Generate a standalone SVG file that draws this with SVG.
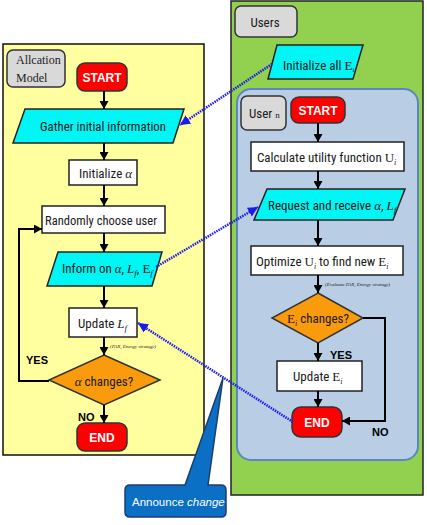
<svg xmlns="http://www.w3.org/2000/svg" width="427" height="525" viewBox="0 0 427 525">
<style>
.t{font-family:"Liberation Sans Narrow","Roboto Condensed","Liberation Sans",sans-serif;font-size:13px;fill:#1a1a1a}
.m{font-family:"Liberation Serif","DejaVu Serif",serif}
.w{font-family:"Liberation Sans",sans-serif;font-size:12px;font-weight:bold;fill:#fff}
.b{font-family:"Liberation Sans",sans-serif;font-size:11px;font-weight:bold;fill:#000}
.s{font-family:"Liberation Serif",serif;font-size:5px;font-style:italic;fill:#222}
.box{fill:#fff;stroke:#222;stroke-width:1.5}
.io{fill:#00f5f5;stroke:#222;stroke-width:1.5}
.term{fill:#ff0000;stroke:#333;stroke-width:1.5}
.dec{fill:#f99b0c;stroke:#333;stroke-width:1.5}
.lab{fill:#d9d9d9;stroke:#333;stroke-width:1.5}
.c{fill:none;stroke:#000;stroke-width:2}
.d{fill:none;stroke:#1a1aee;stroke-width:2.5;stroke-dasharray:1.5 1}
</style>
<defs>
<marker id="a" markerUnits="userSpaceOnUse" markerWidth="9" markerHeight="9" refX="8" refY="4.5" orient="auto"><path d="M0,0 L8,4.5 L0,9 z" fill="#000"/></marker>
<marker id="ab" markerUnits="userSpaceOnUse" markerWidth="11" markerHeight="11" refX="10" refY="5" orient="auto"><path d="M0,0 L10,5 L0,10 z" fill="#1a1aee"/></marker>
</defs>
<rect x="3" y="44" width="201" height="411" fill="#ffffa0" stroke="#111" stroke-width="1.5"/>
<rect x="231" y="1" width="192" height="494" fill="#92d050" stroke="#222" stroke-width="1.5"/>
<rect x="237" y="89" width="181" height="371" rx="14" fill="#b9cde5" stroke="#5b86c5" stroke-width="2"/>

<g id="alloc-label"><rect class="lab" x="7" y="50" width="58" height="37" rx="6"/><text x="16" y="64" font-family="Liberation Serif,serif" font-size="12" fill="#222">Allcation</text><text x="16" y="82" font-family="Liberation Serif,serif" font-size="12" fill="#222">Model</text></g>
<g id="start-a"><rect class="term" x="77" y="63" width="50" height="28" rx="8"/><text class="w" x="102" y="82" text-anchor="middle">START</text></g>
<g id="gather"><polygon class="io" points="25,109 184,109 173,143 13,143"/><text class="t" x="103" y="131" text-anchor="middle" textLength="126" lengthAdjust="spacingAndGlyphs">Gather initial information</text></g>
<g id="init-alpha"><rect class="box" x="69" y="160" width="68" height="25"/><text class="t" x="79" y="178">Initialize <tspan class="m" font-style="italic">α</tspan></text></g>
<g id="random"><rect class="box" x="42" y="206" width="123" height="27"/><text class="t" x="45" y="225" textLength="112" lengthAdjust="spacingAndGlyphs">Randomly choose user</text></g>
<g id="inform"><polygon class="io" points="58,252 162,252 152,286 47,286"/><text class="t" x="62" y="273">Inform on <tspan class="m" font-style="italic">α</tspan>, <tspan class="m" font-style="italic">L</tspan><tspan class="m" font-size="9" font-style="italic" dy="3">f</tspan><tspan dy="-3">, </tspan><tspan class="m">E</tspan><tspan class="m" font-size="9" font-style="italic" dy="3">f</tspan></text></g>
<g id="update-l"><rect class="box" x="69" y="308" width="68" height="29"/><text class="t" x="78" y="328">Update <tspan class="m" font-style="italic">L</tspan><tspan class="m" font-size="9" font-style="italic" dy="3">f</tspan></text></g>
<text class="s" x="110" y="348">(PAR, Energy strategy)</text>
<g id="alpha-dec"><polygon class="dec" points="104,355 160,380 104,405 49,380"/><text class="t" x="104" y="386" text-anchor="middle"><tspan class="m" font-style="italic">α</tspan> changes?</text></g>
<g id="end-a"><rect class="term" x="77" y="423" width="50" height="28" rx="8"/><text class="w" x="102" y="442" text-anchor="middle">END</text></g>
<text class="b" x="26" y="364">YES</text>
<text class="b" x="78" y="421">NO</text>

<g id="users-label"><rect class="lab" x="235" y="6" width="62" height="31" rx="6"/><text class="t" x="265" y="27" text-anchor="middle" font-size="14">Users</text></g>
<g id="init-e"><polygon class="io" points="277,45 363,45 353,79 268,79"/><text class="t" x="283" y="70" font-size="12">Initialize all <tspan class="m">E</tspan><tspan class="m" font-size="7" dy="2">i</tspan></text></g>
<g id="user-n-label"><rect class="lab" x="241" y="96" width="45" height="34" rx="6"/><text class="t" x="249" y="118">User <tspan class="m" font-size="9">n</tspan></text></g>
<g id="start-u"><rect class="term" x="291" y="97" width="54" height="26" rx="8"/><text class="w" x="318" y="115" text-anchor="middle">START</text></g>
<g id="calc"><rect class="box" x="251" y="142" width="153" height="29"/><text class="t" x="257" y="162">Calculate utility function <tspan class="m">U</tspan><tspan class="m" font-size="8" font-style="italic" dy="3">i</tspan></text></g>
<g id="request"><polygon class="io" points="267,189 405,189 393,220 254,220"/><text class="t" x="268" y="210">Request and receive <tspan class="m" font-style="italic">α</tspan>, <tspan class="m" font-style="italic">L</tspan><tspan class="m" font-size="9" font-style="italic" dy="3">f</tspan></text></g>
<g id="optimize"><rect class="box" x="251" y="246" width="152" height="29"/><text class="t" x="256" y="266">Optimize <tspan class="m">U</tspan><tspan class="m" font-size="8" font-style="italic" dy="3">i</tspan><tspan dy="-3"> to find new </tspan><tspan class="m">E</tspan><tspan class="m" font-size="8" font-style="italic" dy="3">i</tspan></text></g>
<text class="s" x="325" y="286">(Evaluate PAR, Energy strategy)</text>
<g id="e-dec"><polygon class="dec" points="318,293 363,318 318,343 272,318"/><text class="t" x="318" y="323" text-anchor="middle"><tspan class="m">E</tspan><tspan class="m" font-size="8" font-style="italic" dy="3">i</tspan><tspan dy="-3"> changes?</tspan></text></g>
<text class="b" x="330" y="359">YES</text>
<g id="update-e"><rect class="box" x="277" y="361" width="85" height="30"/><text class="t" x="293" y="381">Update <tspan class="m">E</tspan><tspan class="m" font-size="8" font-style="italic" dy="3">i</tspan></text></g>
<g id="end-u"><rect class="term" x="292" y="407" width="50" height="30" rx="9"/><text class="w" x="317" y="427" text-anchor="middle">END</text></g>
<text class="b" x="372" y="436">NO</text>

<g id="connectors">
<path class="c" d="M104,91 V109" marker-end="url(#a)"/>
<path class="c" d="M104,143 V160" marker-end="url(#a)"/>
<path class="c" d="M104,185 V206" marker-end="url(#a)"/>
<path class="c" d="M104,233 V252" marker-end="url(#a)"/>
<path class="c" d="M104,286 V308" marker-end="url(#a)"/>
<path class="c" d="M104,337 V355" marker-end="url(#a)"/>
<path class="c" d="M104,405 V423" marker-end="url(#a)"/>
<path class="c" d="M49,381 H19 V229 H42" marker-end="url(#a)"/>
<path class="c" d="M318,123 V142" marker-end="url(#a)"/>
<path class="c" d="M318,171 V189" marker-end="url(#a)"/>
<path class="c" d="M318,220 V246" marker-end="url(#a)"/>
<path class="c" d="M318,275 V293" marker-end="url(#a)"/>
<path class="c" d="M318,343 V361" marker-end="url(#a)"/>
<path class="c" d="M318,391 V407" marker-end="url(#a)"/>
<path class="c" d="M363,318 H385 V421 H342" marker-end="url(#a)"/>
<path class="d" d="M272,64 L180,125" marker-end="url(#ab)"/>
<path class="d" d="M156,267 L258,207" marker-end="url(#ab)"/>
<path class="d" d="M293,422 L138,323" marker-end="url(#ab)"/>
</g>
<g id="callout"><path d="M130,485 H185 L223,378 L208,485 H221 Q226,485 226,490 V512 Q226,517 221,517 H130 Q125,517 125,512 V490 Q125,485 130,485 Z" fill="#0b6fc4" stroke="#1f3c70" stroke-width="1.5"/><text x="132" y="506" font-family="Liberation Sans Narrow,Liberation Sans,sans-serif" font-size="11.5" fill="#fff">Announce <tspan font-style="italic">change</tspan></text></g>
</svg>
